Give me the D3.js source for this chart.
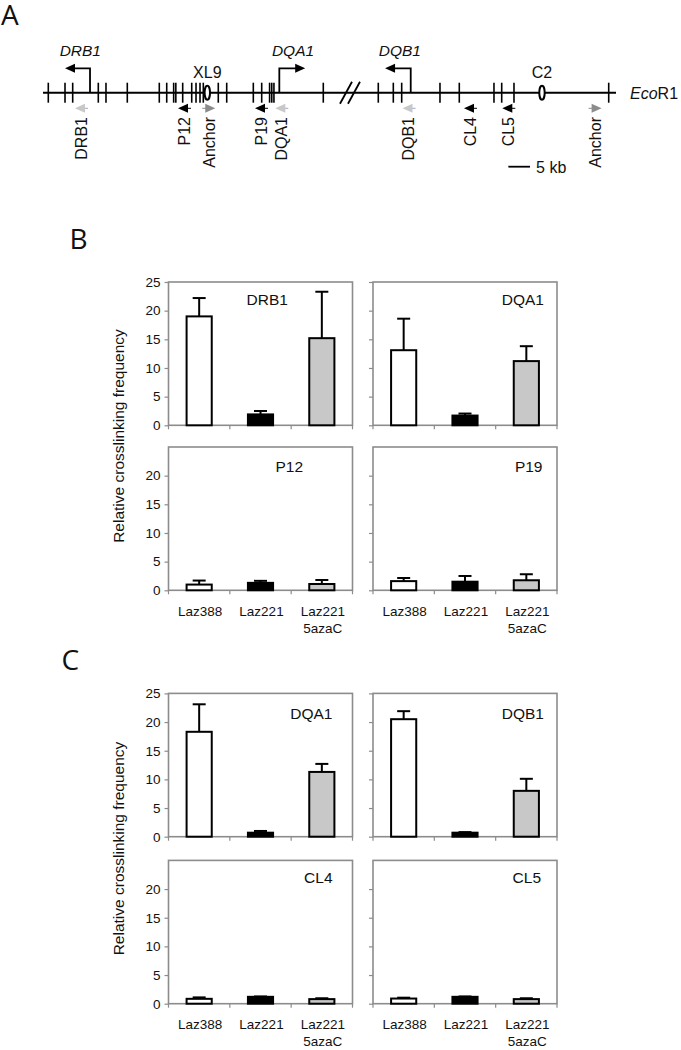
<!DOCTYPE html>
<html><head><meta charset="utf-8">
<script src="https://cdn.jsdelivr.net/npm/d3@7"></script>
<style>
body{margin:0;background:#fff;}
svg{display:block;}
text{font-family:"Liberation Sans",Arial,sans-serif;fill:#111;}
</style></head>
<body><svg id="chart" width="681" height="1050"></svg>
<script>
// ---------- DATA ----------
const groups = ["Laz388", "Laz221", "Laz221 5azaC"];
const groupLabels = [["Laz388"], ["Laz221"], ["Laz221", "5azaC"]];
const barFills = ["#ffffff", "#000000", "#c8c8c8"];
const yTicksFull = [0, 5, 10, 15, 20, 25];
const yTicksLower = [0, 5, 10, 15, 20];

// Panel B
const bDRB1 = [19.0, 1.9, 15.2];   const bDRB1Sd = [3.2, 0.6, 8.1];
const bDQA1 = [13.1, 1.7, 11.2];   const bDQA1Sd = [5.5, 0.35, 2.6];
const bP12  = [1.0, 1.3, 1.1];     const bP12Sd  = [0.7, 0.35, 0.7];
const bP19  = [1.6, 1.5, 1.75];    const bP19Sd  = [0.55, 1.0, 1.05];
// Panel C
const cDQA1 = [18.3, 0.7, 11.3];   const cDQA1Sd = [4.8, 0.3, 1.4];
const cDQB1 = [20.5, 0.7, 8.0];    const cDQB1Sd = [1.4, 0.1, 2.1];
const cCL4  = [0.85, 1.2, 0.8];    const cCL4Sd  = [0.25, 0.06, 0.15];
const cCL5  = [0.9, 1.2, 0.8];     const cCL5Sd  = [0.15, 0.06, 0.15];

// Panel A map (positions in kb along the drawn locus)
const locusLength = 132;
const ecoSites = [1.22, 5.07, 6.84, 12.74, 14.51, 19.42, 26.79, 28.50, 30.1, 30.6, 32.18,
  34.26, 35.25, 36.17, 36.93, 40.38, 42.32, 48.45, 50.38, 52.2, 52.7, 53.2, 64.57,
  77.24, 80.70, 82.63, 91.45, 95.90, 103.89, 105.67, 108.50, 130.32];
const genes = [
  {name: "DRB1", tss: 10.83, end: 5.07, labelPos: 8.6},
  {name: "DQA1", tss: 54.44, end: 60.4, labelPos: 57.6},
  {name: "DQB1", tss: 84.71, end: 78.8, labelPos: 82.2}
];
const elements = [{name: "XL9", pos: 37.85}, {name: "C2", pos: 114.95}];
const primers = [
  {name: "DRB1",   pos: 8.75,  dir: -1, color: "#c8c8c8"},
  {name: "P12",    pos: 32.48, dir: -1, color: "#000000"},
  {name: "Anchor", pos: 38.3,  dir: 1,  color: "#8c8c8c"},
  {name: "P19",    pos: 50.22, dir: -1, color: "#000000"},
  {name: "DQA1",   pos: 54.9,  dir: -1, color: "#c8c8c8"},
  {name: "DQB1",   pos: 84.2,  dir: -1, color: "#c8c8c8"},
  {name: "CL4",    pos: 98.36, dir: -1, color: "#000000"},
  {name: "CL5",    pos: 107.19,dir: -1, color: "#000000"},
  {name: "Anchor", pos: 127.3, dir: 1,  color: "#8c8c8c"}
];
const breakPos = 70.72;
const scaleBarStart = 107.2, scaleBarKb = 5;

// ---------- DRAW ----------
const svg = d3.select("#chart");
svg.append("rect").attr("width", 681).attr("height", 1050).attr("fill", "#fff");

// Panel letters
const letterFont = '"Open Sans","Noto Sans",sans-serif';
[["A", 1, 24.5], ["B", 69.5, 248.5], ["C", 61.5, 670]].forEach(([t, x, y]) => {
  svg.append("text").attr("x", x).attr("y", y).attr("font-size", 28)
    .style("font-family", letterFont).text(t);
});

// ---- Panel A ----
const kb = d3.scaleLinear().domain([0, locusLength]).range([43, 616]);
const lineY = 92.7;
const A = svg.append("g");
A.append("line").attr("x1", kb(0)).attr("x2", kb(locusLength))
  .attr("y1", lineY).attr("y2", lineY).attr("stroke", "#000").attr("stroke-width", 2);
A.selectAll("line.site").data(ecoSites).join("line").attr("class", "site")
  .attr("x1", d => kb(d)).attr("x2", d => kb(d))
  .attr("y1", lineY - 10).attr("y2", lineY + 10)
  .attr("stroke", "#000").attr("stroke-width", 1.6);
// break
[-4, 4].forEach(o => {
  const cx = kb(breakPos) + o;
  A.append("line").attr("x1", cx - 6).attr("y1", lineY + 11)
    .attr("x2", cx + 6).attr("y2", lineY - 11)
    .attr("stroke", "#000").attr("stroke-width", 1.8);
});
// gene TSS arrows
const arrowTopY = 68.3;
genes.forEach(g => {
  const x0 = kb(g.tss), x1 = kb(g.end), dir = Math.sign(g.end - g.tss);
  A.append("path")
    .attr("d", `M${x0},${lineY} V${arrowTopY} H${x1 - dir * 6}`)
    .attr("fill", "none").attr("stroke", "#000").attr("stroke-width", 1.8);
  A.append("path")
    .attr("d", `M${x1},${arrowTopY} L${x1 - dir * 10},${arrowTopY - 4.5} L${x1 - dir * 10},${arrowTopY + 4.5} Z`)
    .attr("fill", "#000");
  A.append("text").attr("x", kb(g.labelPos)).attr("y", 55.5)
    .attr("text-anchor", "middle").attr("font-size", 15.5).attr("font-style", "italic")
    .text(g.name);
});
// elements (XL9, C2)
elements.forEach(e => {
  A.append("ellipse").attr("cx", kb(e.pos)).attr("cy", lineY)
    .attr("rx", 2.7).attr("ry", 7).attr("fill", "#fff")
    .attr("stroke", "#000").attr("stroke-width", 2);
  A.append("text").attr("x", kb(e.pos)).attr("y", 77.5)
    .attr("text-anchor", "middle").attr("font-size", 16).text(e.name);
});
// primers
const primerY = 108.3;
primers.forEach(p => {
  const cx = kb(p.pos), d = p.dir;
  A.append("line").attr("x1", cx - d * 1).attr("x2", cx - d * 7)
    .attr("y1", primerY).attr("y2", primerY)
    .attr("stroke", p.color === "#c8c8c8" ? "#9aa6d8" : p.color).attr("stroke-width", 1);
  A.append("path")
    .attr("d", `M${cx + d * 6},${primerY} L${cx - d * 4},${primerY - 4.5} L${cx - d * 4},${primerY + 4.5} Z`)
    .attr("fill", p.color);
  A.append("text")
    .attr("transform", `translate(${cx},${117}) rotate(-90)`)
    .attr("text-anchor", "end").attr("dy", "0.36em")
    .attr("font-size", 16).text(p.name);
});
// scale bar
A.append("line").attr("x1", kb(scaleBarStart)).attr("x2", kb(scaleBarStart + scaleBarKb))
  .attr("y1", 166.7).attr("y2", 166.7).attr("stroke", "#000").attr("stroke-width", 1.8);
A.append("text").attr("x", kb(scaleBarStart + scaleBarKb) + 6).attr("y", 172.5)
  .attr("font-size", 16).text("5 kb");
// EcoR1
const eco = A.append("text").attr("x", 630).attr("y", 98.5).attr("font-size", 16);
eco.append("tspan").attr("font-style", "italic").text("Eco");
eco.append("tspan").text("R1");

// ---- Bar panels ----
function drawPanel(cfg) {
  const {x0, y0, w, h, means, sds, title, titleX, titleY, titleAnchor, leftLabels, ticks, xLabels} = cfg;
  const g = svg.append("g");
  const y = d3.scaleLinear().domain([0, 25]).range([y0 + h, y0]);
  const x = d3.scaleBand().domain(groups).range([x0, x0 + w]);
  g.append("rect").attr("x", x0).attr("y", y0).attr("width", w).attr("height", h)
    .attr("fill", "none").attr("stroke", "#8c8c8c").attr("stroke-width", 1.6);
  const ya = g.append("g").attr("transform", `translate(${x0},0)`)
    .call(d3.axisLeft(y).tickValues(ticks).tickSize(4).tickPadding(4)
      .tickFormat(leftLabels ? d3.format("d") : () => ""));
  ya.select(".domain").remove();
  ya.selectAll(".tick line").attr("stroke", "#8c8c8c").attr("stroke-width", 1.2);
  ya.selectAll(".tick text").attr("font-size", 13.5).style("font-family", '"Liberation Sans",Arial,sans-serif').attr("fill", "#111");
  const bounds = groups.map(d => x(d)).concat([x0 + w]);
  g.selectAll("line.xt").data(bounds).join("line").attr("class", "xt")
    .attr("x1", d => d).attr("x2", d => d).attr("y1", y0 + h).attr("y2", y0 + h + 4)
    .attr("stroke", "#8c8c8c").attr("stroke-width", 1.2);
  const bw = x.bandwidth() * 0.41;
  const cx = d => x(d) + x.bandwidth() / 2;
  groups.forEach((gr, i) => {
    const top = y(means[i] + sds[i]);
    g.append("line").attr("x1", cx(gr)).attr("x2", cx(gr))
      .attr("y1", y(means[i])).attr("y2", top).attr("stroke", "#000").attr("stroke-width", 2);
    g.append("line").attr("x1", cx(gr) - 6.5).attr("x2", cx(gr) + 6.5)
      .attr("y1", top).attr("y2", top).attr("stroke", "#000").attr("stroke-width", 2);
  });
  g.selectAll("rect.bar").data(groups).join("rect").attr("class", "bar")
    .attr("x", d => cx(d) - bw / 2).attr("width", bw)
    .attr("y", (d, i) => y(means[i])).attr("height", (d, i) => y(0) - y(means[i]))
    .attr("fill", (d, i) => barFills[i]).attr("stroke", "#000").attr("stroke-width", 2);
  g.append("text").attr("x", titleX).attr("y", titleY).attr("text-anchor", titleAnchor)
    .attr("font-size", 15.5).text(title);
  if (xLabels) {
    groups.forEach((gr, i) => {
      groupLabels[i].forEach((ln, j) => {
        g.append("text").attr("x", cx(gr) + 1).attr("y", y0 + h + 25.4 + j * 17)
          .attr("text-anchor", "middle").attr("font-size", 13.5).text(ln);
      });
    });
  }
}

const LX = 168.5, RX = 373, PW = 184, PH = 143.3;
drawPanel({x0: LX, y0: 282, w: PW, h: PH, means: bDRB1, sds: bDRB1Sd, title: "DRB1",
  titleX: LX + 78, titleY: 304.5, titleAnchor: "start", leftLabels: true, ticks: yTicksFull});
drawPanel({x0: RX, y0: 282, w: PW, h: PH, means: bDQA1, sds: bDQA1Sd, title: "DQA1",
  titleX: RX + PW - 13, titleY: 304.5, titleAnchor: "end", leftLabels: false, ticks: yTicksFull});
drawPanel({x0: LX, y0: 447, w: PW, h: PH, means: bP12, sds: bP12Sd, title: "P12",
  titleX: LX + 107, titleY: 471.5, titleAnchor: "start", leftLabels: true, ticks: yTicksLower, xLabels: true});
drawPanel({x0: RX, y0: 447, w: PW, h: PH, means: bP19, sds: bP19Sd, title: "P19",
  titleX: RX + PW - 14.5, titleY: 471.5, titleAnchor: "end", leftLabels: false, ticks: yTicksLower, xLabels: true});

drawPanel({x0: LX, y0: 693.4, w: PW, h: PH, means: cDQA1, sds: cDQA1Sd, title: "DQA1",
  titleX: LX + PW - 20, titleY: 718.7, titleAnchor: "end", leftLabels: true, ticks: yTicksFull});
drawPanel({x0: RX, y0: 693.4, w: PW, h: PH, means: cDQB1, sds: cDQB1Sd, title: "DQB1",
  titleX: RX + PW - 13, titleY: 718.7, titleAnchor: "end", leftLabels: false, ticks: yTicksFull});
drawPanel({x0: LX, y0: 860.4, w: PW, h: PH, means: cCL4, sds: cCL4Sd, title: "CL4",
  titleX: LX + PW - 20, titleY: 882.5, titleAnchor: "end", leftLabels: true, ticks: yTicksLower, xLabels: true});
drawPanel({x0: RX, y0: 860.4, w: PW, h: PH, means: cCL5, sds: cCL5Sd, title: "CL5",
  titleX: RX + PW - 16, titleY: 882.5, titleAnchor: "end", leftLabels: false, ticks: yTicksLower, xLabels: true});

// y-axis titles
[436, 848.5].forEach(cy => {
  svg.append("text").attr("transform", `translate(119,${cy}) rotate(-90)`)
    .attr("text-anchor", "middle").attr("dy", "0.35em").attr("font-size", 15.5)
    .text("Relative crosslinking frequency");
});
</script></body></html>
